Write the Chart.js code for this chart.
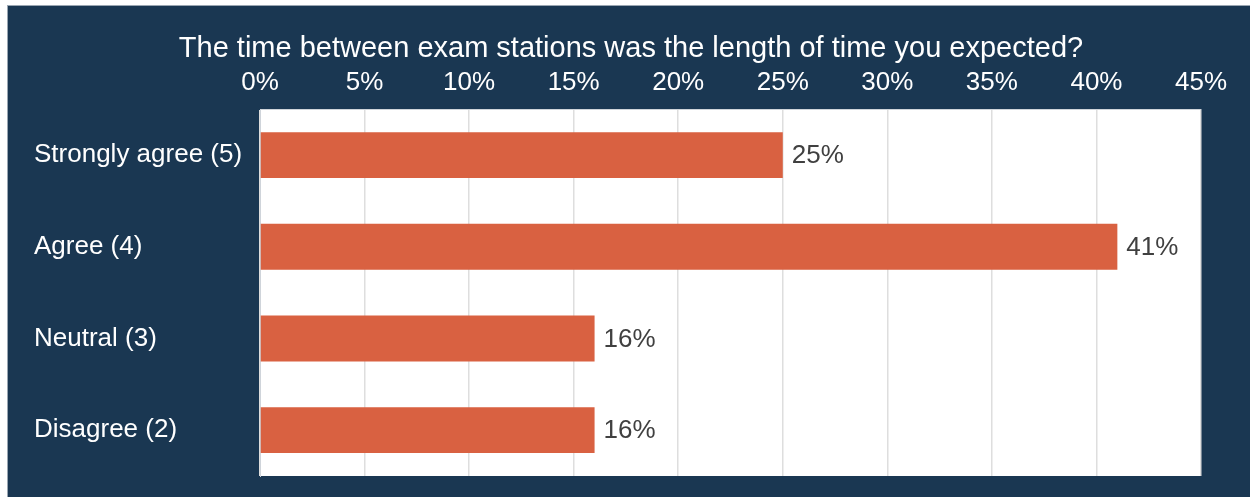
<!DOCTYPE html>
<html>
<head>
<meta charset="utf-8">
<script src="https://cdn.jsdelivr.net/npm/chart.js@4.4.0/dist/chart.umd.min.js"></script>
<style>
  html, body { margin: 0; padding: 0; background: #ffffff; }
  #panel {
    position: absolute; left: 7px; top: 5px;
    width: 1243px; height: 492px;
    background: #1a3752;
    border-left: 1px solid #9aa6b2; border-top: 1px solid #9aa6b2;
    box-sizing: border-box;
  }
  #chart { display: block; }
</style>
</head>
<body>
<div id="panel"><canvas id="chart" width="1242" height="491"></canvas></div>
<script>
let categories = ['Strongly agree (5)', 'Agree (4)', 'Neutral (3)', 'Disagree (2)'];
let percents = [25, 41, 16, 16];
let axisMax = 45;
let axisStep = 5;
let titleText = 'The time between exam stations was the length of time you expected?';

let font = "'Liberation Sans', Arial, sans-serif";

// white plot background behind the bars, title across the top of the panel
let plotBackground = {
    id: 'plotBackground',
    beforeDraw(chart) {
        let a = chart.chartArea;
        let ctx = chart.ctx;
        ctx.save();
        ctx.fillStyle = '#ffffff';
        ctx.fillRect(a.left, a.top, a.right - a.left, a.bottom - a.top);
        ctx.font = '29px ' + font;
        ctx.fillStyle = '#ffffff';
        ctx.textAlign = 'center';
        ctx.textBaseline = 'middle';
        ctx.fillText(titleText, chart.width / 2 + 2, 43);
        ctx.restore();
    }
};

// value labels just past the end of each bar
let barLabels = {
    id: 'barLabels',
    afterDatasetsDraw(chart) {
        let ctx = chart.ctx;
        let meta = chart.getDatasetMeta(0);
        ctx.save();
        ctx.font = '26px ' + font;
        ctx.fillStyle = '#404040';
        ctx.textAlign = 'left';
        ctx.textBaseline = 'middle';
        meta.data.forEach((bar, i) => {
            ctx.fillText(percents[i] + '%', bar.x + 9, bar.y + 1);
        });
        ctx.restore();
    }
};

new Chart(document.getElementById('chart'), {
    type: 'bar',
    data: {
        labels: categories,
        datasets: [{
            data: percents,
            backgroundColor: '#d96141',
            borderWidth: 0,
            categoryPercentage: 1.0,
            barPercentage: 0.5
        }]
    },
    options: {
        indexAxis: 'y',
        responsive: false,
        animation: false,
        devicePixelRatio: 1,
        layout: { padding: { left: 26, right: 49, top: 50, bottom: 21 } },
        plugins: {
            legend: { display: false },
            tooltip: { enabled: false },
            title: { display: false }
        },
        scales: {
            x: {
                position: 'top',
                min: 0,
                max: axisMax,
                ticks: {
                    stepSize: axisStep,
                    color: '#ffffff',
                    font: { family: font, size: 26 },
                    padding: 11,
                    callback: v => v + '%'
                },
                grid: { color: '#dedede', lineWidth: 1.5, drawTicks: false },
                border: { display: true, color: '#cfd4da' }
            },
            y: {
                ticks: {
                    color: '#ffffff',
                    font: { family: font, size: 26 },
                    crossAlign: 'far'
                },
                grid: { display: false },
                border: { display: true, color: '#cfd4da' },
                afterFit(scale) { scale.width = 226; }
            }
        }
    },
    plugins: [plotBackground, barLabels]
});
</script>
</body>
</html>
